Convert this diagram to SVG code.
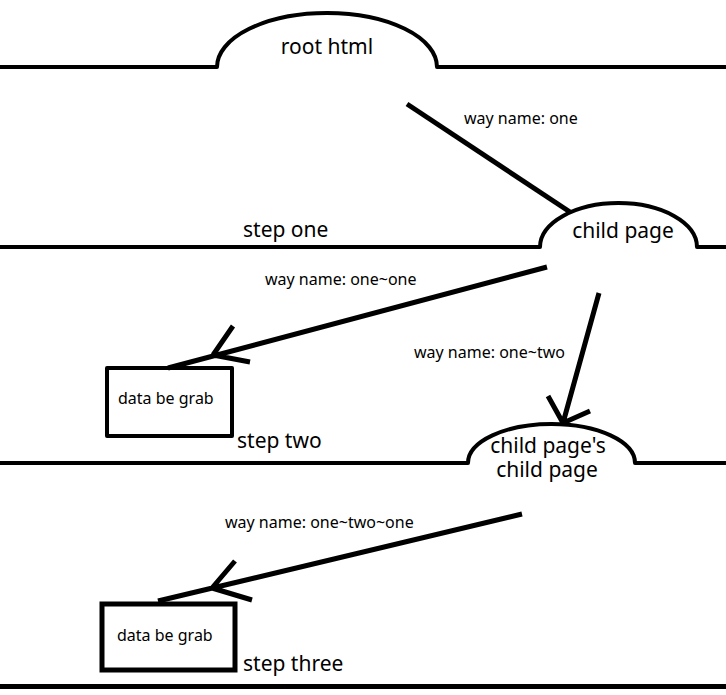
<svg xmlns="http://www.w3.org/2000/svg" width="726" height="695" viewBox="0 0 726 695">
<style>
.ln{fill:none;stroke:#000;stroke-width:4;stroke-linecap:butt;stroke-linejoin:round}
.ar{fill:none;stroke:#000;stroke-width:5;stroke-linecap:butt}
.big{font-family:"Noto Sans","Liberation Sans",sans-serif;font-size:21px;fill:#000}
.sm{font-family:"Noto Sans","Liberation Sans",sans-serif;font-size:16px;fill:#000}
</style>
<rect width="726" height="695" fill="#fff"/>
<g id="root-html">
<path class="ln" d="M0 67 H217 A110 54 0 0 1 437 67 H726"/>
<text class="big" x="327" y="54" text-anchor="middle">root html</text>
</g>
<g id="child-page">
<path class="ln" d="M0 247 H540 A78.5 44 0 0 1 697 247 H726"/>
<text class="big" x="243" y="237">step one</text>
<text class="big" x="623" y="238" text-anchor="middle">child page</text>
</g>
<g id="data1">
<rect class="ln" x="107" y="368" width="125" height="68"/>
<text class="sm" x="118" y="404">data be grab</text>
<text class="big" x="237" y="448">step two</text>
</g>
<g id="child-child-page">
<path class="ln" d="M0 463 H468 A83.5 39 0 0 1 635 463 H726"/>
<text class="big" x="548" y="453" text-anchor="middle">child page's</text>
<text class="big" x="547" y="477" text-anchor="middle">child page</text>
</g>
<g id="data2">
<rect class="ar" x="102" y="604" width="133" height="66"/>
<text class="sm" x="117" y="641">data be grab</text>
<text class="big" x="243" y="671">step three</text>
</g>
<rect x="0" y="684" width="726" height="5" fill="#000"/>
<g id="connectors">
<path class="ar" d="M407 104 L570 212"/>
<text class="sm" x="464" y="124">way name: one</text>
<path class="ar" d="M547 267 L168 368 M213 355 L233 326 M213 355 L250 362"/>
<text class="sm" x="265" y="285">way name: one~one</text>
<path class="ar" d="M599 293 L563 423 M563 423 L548 396 M563 423 L590 411"/>
<text class="sm" x="414" y="358">way name: one~two</text>
<path class="ar" d="M522 514 L158 601 M212 588 L235 561 M212 588 L252 600"/>
<text class="sm" x="225" y="528">way name: one~two~one</text>
</g>
</svg>
